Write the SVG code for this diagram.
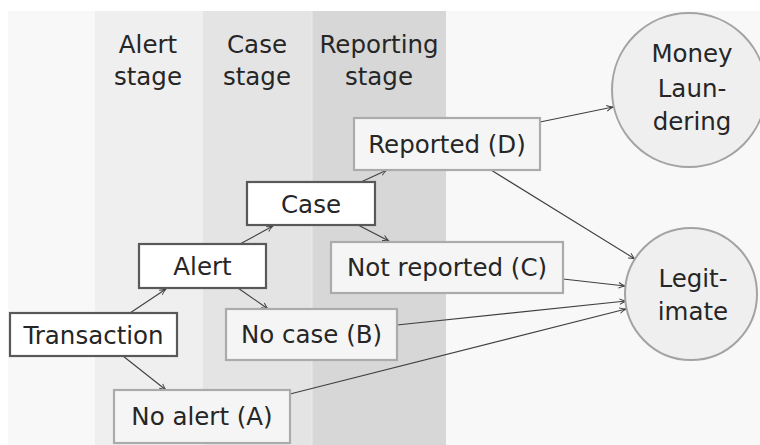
<svg xmlns="http://www.w3.org/2000/svg" width="760" height="445" viewBox="0 0 760 445">
<defs>
<style>
.lbl{font-family:"DejaVu Sans",sans-serif;font-size:24.5px;fill:#262626;text-anchor:middle}
.dark{fill:#ffffff;stroke:#595959;stroke-width:2.2}
.light{fill:#f5f5f5;stroke:#ababab;stroke-width:2.2}
.circ{fill:#efefef;stroke:#a3a3a3;stroke-width:2}
.edge{fill:none;stroke:#404040;stroke-width:1.1;marker-end:url(#arr)}
</style>
<marker id="arr" viewBox="0 0 10 10" refX="9" refY="5" markerWidth="8" markerHeight="8" markerUnits="userSpaceOnUse" orient="auto">
<path d="M1,1.5 Q5,4 9,5 Q5,6 1,8.5" fill="none" stroke="#404040" stroke-width="1.2"/>
</marker>
</defs>
<rect x="0" y="0" width="760" height="445" fill="#ffffff"/>
<rect x="8" y="11" width="752" height="434" fill="#f8f8f8"/>
<g id="bands">
<rect x="95" y="11" width="108" height="434" fill="#efefef"/>
<rect x="203" y="11" width="109" height="434" fill="#e4e4e4"/>
<rect x="312" y="11" width="134" height="434" fill="#d7d7d7"/>
<line x1="312" y1="11" x2="312" y2="445" stroke="#ececec" stroke-width="1"/>
<text class="lbl" x="148" y="53">Alert</text>
<text class="lbl" x="148" y="85">stage</text>
<text class="lbl" x="257" y="53">Case</text>
<text class="lbl" x="257" y="85">stage</text>
<text class="lbl" x="379" y="53">Reporting</text>
<text class="lbl" x="379" y="85">stage</text>
</g>
<g id="connectors">
<line class="edge" x1="130" y1="313" x2="166" y2="289"/>
<line class="edge" x1="123" y1="356" x2="166" y2="390"/>
<line class="edge" x1="240" y1="244" x2="273" y2="226"/>
<line class="edge" x1="238" y1="288" x2="268" y2="309"/>
<line class="edge" x1="361" y1="182" x2="387" y2="170"/>
<line class="edge" x1="358" y1="225" x2="389" y2="241"/>
<line class="edge" x1="540" y1="122" x2="613" y2="107"/>
<line class="edge" x1="491" y1="170" x2="635" y2="259"/>
<line class="edge" x1="563" y1="279" x2="625" y2="286"/>
<line class="edge" x1="397" y1="325" x2="626" y2="301"/>
<line class="edge" x1="290" y1="394" x2="626" y2="309"/>
</g>
<g id="transaction">
<rect class="dark" x="10" y="313" width="167" height="43"/>
<text class="lbl" x="93.5" y="344">Transaction</text>
</g>
<g id="alert">
<rect class="dark" x="139" y="244" width="127" height="44"/>
<text class="lbl" x="202.5" y="275">Alert</text>
</g>
<g id="case">
<rect class="dark" x="247" y="182" width="128" height="43"/>
<text class="lbl" x="311" y="213">Case</text>
</g>
<g id="reported">
<rect class="light" x="354" y="118" width="186" height="52"/>
<text class="lbl" x="447" y="153">Reported (D)</text>
</g>
<g id="notreported">
<rect class="light" x="331" y="242" width="232" height="51"/>
<text class="lbl" x="447" y="276">Not reported (C)</text>
</g>
<g id="nocase">
<rect class="light" x="226" y="309" width="171" height="51"/>
<text class="lbl" x="311.5" y="343">No case (B)</text>
</g>
<g id="noalert">
<rect class="light" x="114" y="390" width="176" height="53"/>
<text class="lbl" x="202" y="425">No alert (A)</text>
</g>
<g id="moneylaundering">
<circle class="circ" cx="689" cy="90" r="77"/>
<text class="lbl" x="692" y="62">Money</text>
<text class="lbl" x="692" y="97">Laun-</text>
<text class="lbl" x="692" y="130">dering</text>
</g>
<g id="legitimate">
<circle class="circ" cx="691" cy="294" r="66"/>
<text class="lbl" x="693" y="287">Legit-</text>
<text class="lbl" x="693" y="320">imate</text>
</g>
</svg>
